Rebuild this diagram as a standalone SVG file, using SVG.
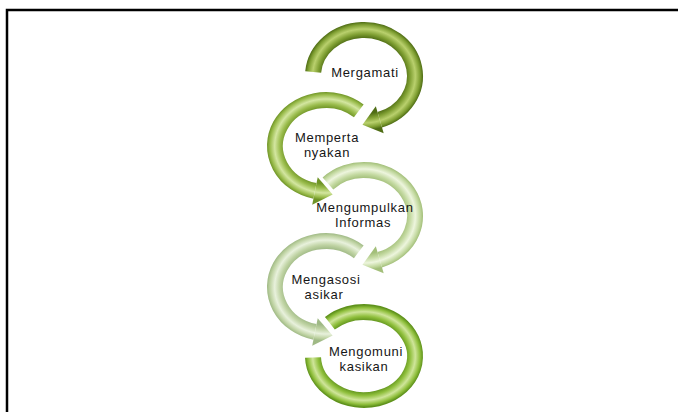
<svg xmlns="http://www.w3.org/2000/svg" width="678" height="412" viewBox="0 0 678 412">
<style>
.arc{fill:none;stroke-width:16;stroke-linecap:butt}
.lbl{font-family:"Liberation Sans",Arial,sans-serif;font-size:13px;letter-spacing:0.7px;fill:#161616;text-anchor:middle}
</style>
<defs>
<radialGradient id="g1" gradientUnits="userSpaceOnUse" cx="0" cy="0" r="59" gradientTransform="scale(1,0.915)">
<stop offset="0.70" stop-color="#4f6d15"/><stop offset="0.78" stop-color="#7f9f32"/><stop offset="0.87" stop-color="#b9d06d"/><stop offset="0.95" stop-color="#7f9f32"/><stop offset="1" stop-color="#4f6d15"/>
</radialGradient>
<radialGradient id="g2" gradientUnits="userSpaceOnUse" cx="0" cy="0" r="59" gradientTransform="scale(1,0.915)">
<stop offset="0.70" stop-color="#6f9426"/><stop offset="0.78" stop-color="#9abc4c"/><stop offset="0.87" stop-color="#d3e6a0"/><stop offset="0.95" stop-color="#9abc4c"/><stop offset="1" stop-color="#6f9426"/>
</radialGradient>
<radialGradient id="g3" gradientUnits="userSpaceOnUse" cx="0" cy="0" r="59" gradientTransform="scale(1,0.915)">
<stop offset="0.70" stop-color="#a3bf7a"/><stop offset="0.78" stop-color="#c3d9a0"/><stop offset="0.87" stop-color="#edf5dd"/><stop offset="0.95" stop-color="#c3d9a0"/><stop offset="1" stop-color="#a3bf7a"/>
</radialGradient>
<radialGradient id="g4" gradientUnits="userSpaceOnUse" cx="0" cy="0" r="59" gradientTransform="scale(1,0.915)">
<stop offset="0.70" stop-color="#9fb985"/><stop offset="0.78" stop-color="#bfd3a3"/><stop offset="0.87" stop-color="#e8f1dc"/><stop offset="0.95" stop-color="#bfd3a3"/><stop offset="1" stop-color="#9fb985"/>
</radialGradient>
<radialGradient id="g5" gradientUnits="userSpaceOnUse" cx="0" cy="0" r="59" gradientTransform="scale(1,0.863)">
<stop offset="0.70" stop-color="#5f921c"/><stop offset="0.78" stop-color="#8fbf3c"/><stop offset="0.87" stop-color="#cfe59a"/><stop offset="0.95" stop-color="#8fbf3c"/><stop offset="1" stop-color="#5f921c"/>
</radialGradient>
</defs>
<rect width="678" height="412" fill="#ffffff"/>
<path d="M7 412 V10 H678" fill="none" stroke="#000" stroke-width="2.5"/>
<g id="connectors">
<g transform="translate(364,356)">
<path class="arc" stroke="url(#g5)" d="M-34.13,-32.70 A51,44 0 1 1 -50.97,1.54"/>
</g>
<g transform="translate(326,287)">
<path class="arc" stroke="url(#g4)" d="M32.78,-35.24 A51,46 0 1 0 -11.04,44.91"/>
<polygon fill="url(#g4)" points="-13.78,58.64 6.61,48.44 -8.30,31.18"/>
</g>
<g transform="translate(364,216)">
<path class="arc" stroke="url(#g3)" d="M-36.06,-32.53 A51,46 0 1 1 15.76,43.75"/>
<polygon fill="url(#g3)" points="19.69,57.19 -1.52,48.81 11.83,30.31"/>
</g>
<g transform="translate(326,146)">
<path class="arc" stroke="url(#g2)" d="M32.78,-35.24 A51,46 0 1 0 -11.04,44.91"/>
<polygon fill="url(#g2)" points="-13.78,58.64 6.61,48.44 -8.30,31.18"/>
</g>
<g transform="translate(364,76)">
<path class="arc" stroke="url(#g1)" d="M-50.81,-4.01 A51,46 0 1 1 15.76,43.75"/>
<polygon fill="url(#g1)" points="19.69,57.19 -1.52,48.81 11.83,30.31"/>
</g>
</g>
<g id="node-mengamati"><text class="lbl" x="365" y="77">Mergamati</text></g>
<g id="node-menanya"><text class="lbl" x="327" y="142">Memperta</text><text class="lbl" x="327" y="157">nyakan</text></g>
<g id="node-mengumpulkan"><text class="lbl" x="365" y="212">Mengumpulkan</text><text class="lbl" x="363" y="227">Informas</text></g>
<g id="node-mengasosiasikan"><text class="lbl" x="326" y="284">Mengasosi</text><text class="lbl" x="324" y="299">asikar</text></g>
<g id="node-mengomunikasikan"><text class="lbl" x="366" y="356">Mengomuni</text><text class="lbl" x="364" y="371">kasikan</text></g>
</svg>
